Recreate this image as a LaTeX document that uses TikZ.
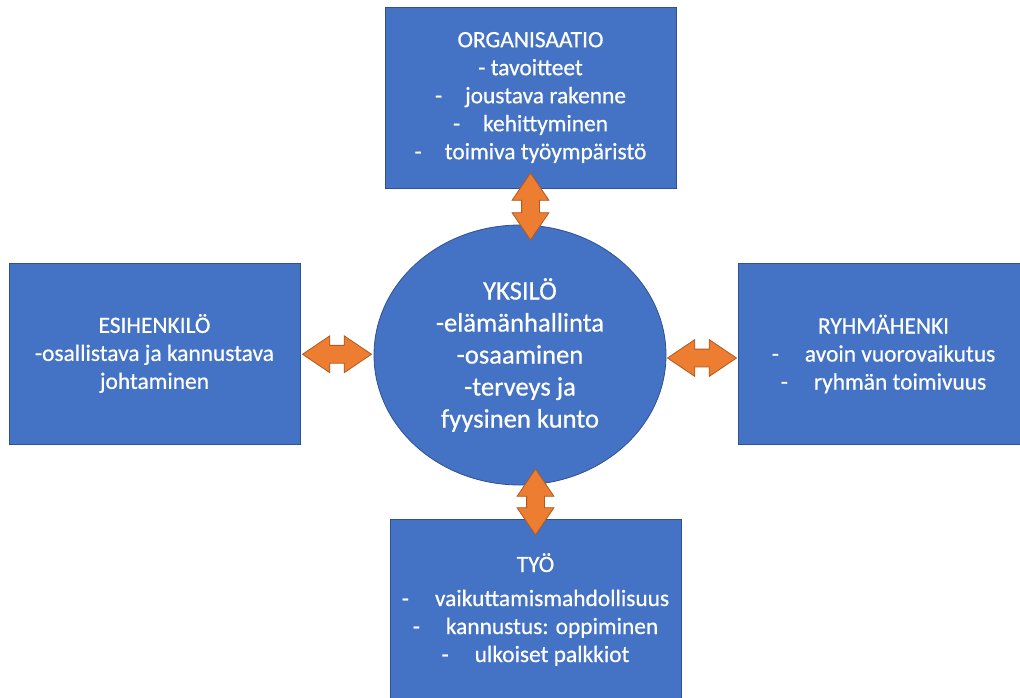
\documentclass[tikz,border=0pt]{standalone}
\usepackage{fontspec}
\setmainfont{Carlito}
\newfontfamily\labelfont{Carlito}[FakeBold=0.6]
\usetikzlibrary{shapes.geometric,shapes.arrows,calc}
\definecolor{boxblue}{HTML}{4472C4}
\definecolor{boxedge}{HTML}{2F528F}
\definecolor{arrowfill}{HTML}{ED7D31}
\definecolor{arrowedge}{HTML}{AE5A21}

\begin{document}
\begin{tikzpicture}[x=1pt,y=-1pt,
  area/.style={rectangle, draw=boxedge, line width=0.8pt, fill=boxblue,
    text=white, align=center, font=\labelfont\fontsize{23.4}{28}\selectfont,
    inner sep=0pt, minimum width=291pt, minimum height=181pt},
  core/.style={ellipse, draw=boxedge, line width=0.8pt, fill=boxblue,
    text=white, align=center, font=\labelfont\fontsize{26.6}{32}\selectfont,
    inner sep=0pt},
  link/.style={double arrow, draw=arrowedge, line width=0.8pt, fill=arrowfill,
    inner sep=8.5pt, minimum width=36pt, double arrow head extend=9.5pt,
    double arrow tip angle=68}
]
\useasboundingbox (0,0) rectangle (1020,697);
\begin{scope}
\clip (0,0) rectangle (1020,697);

% four surrounding areas
\node[area] (org) at (530.5,97.5)
  {ORGANISAATIO\\
   - tavoitteet\\
   -\hspace{23pt}joustava rakenne\\
   -\hspace{23pt}kehittyminen\\
   -\hspace{23pt}toimiva työympäristö};

\node[area] (boss) at (154.5,353.5)
  {ESIHENKILÖ\\
   -osallistava ja kannustava\\
   johtaminen};

\node[area] (team) at (883.5,354)
  {RYHMÄHENKI\\
   -\hspace{26pt}avoin vuorovaikutus\\
   -\hspace{26pt}ryhmän toimivuus};

\node[area] (work) at (535.5,609.5)
  {TYÖ\\[6pt]
   -\hspace{26pt}vaikuttamismahdollisuus\\
   -\hspace{26pt}kannustus: oppiminen\\
   -\hspace{26pt}ulkoiset palkkiot};

% the individual in the middle
\node[core, minimum width=292pt, minimum height=260pt] (self) at (520,355)
  {YKSILÖ\\
   -elämänhallinta\\
   -osaaminen\\
   -terveys ja\\
   fyysinen kunto};

% two-way links
\node[link, shape border rotate=90, minimum height=67pt] (l1)
  at ($(org.south)!0.5!(org.south |- self.north)$) {};
\node[link, shape border rotate=90, minimum height=66pt] (l2)
  at ($(work.north)!0.5!(work.north |- self.south)$) {};
\node[link, minimum height=69pt] (l3)
  at ($(boss.east)!0.5!(self.west)$) {};
\node[link, minimum height=69pt] (l4)
  at ($(self.east |- 0,358)!0.5!(team.west |- 0,358)$) {};
\end{scope}
\end{tikzpicture}
\end{document}
